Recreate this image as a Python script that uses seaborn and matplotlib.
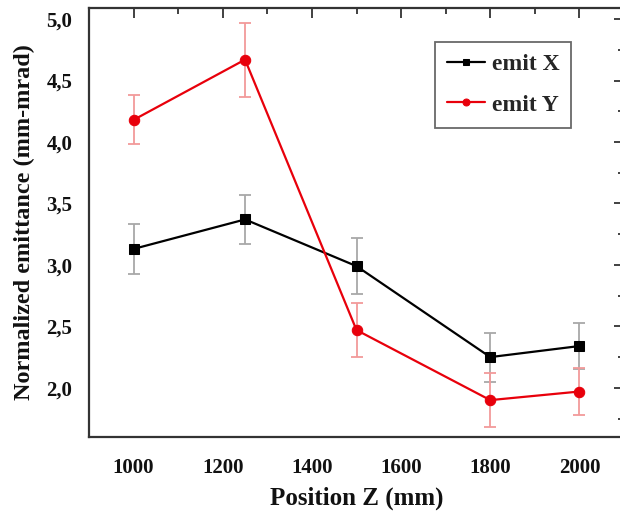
import matplotlib
matplotlib.use("Agg")
import matplotlib.pyplot as plt
import seaborn as sns
import pandas as pd
from matplotlib.ticker import MultipleLocator, FuncFormatter

sns.set_theme(style="white")
plt.rcParams['font.family'] = ['Liberation Serif', 'DejaVu Serif']
plt.rcParams['font.weight'] = 'bold'

positions = [1000, 1250, 1500, 1800, 2000]
emit_x = [3.13, 3.37, 2.99, 2.25, 2.34]
emit_x_err = [0.20, 0.20, 0.23, 0.20, 0.19]
emit_y = [4.18, 4.67, 2.47, 1.90, 1.97]
emit_y_err = [0.20, 0.30, 0.22, 0.22, 0.19]
series_names = ["emit X", "emit Y"]

df = pd.DataFrame({
    "z": positions * 2,
    "emit": emit_x + emit_y,
    "err": emit_x_err + emit_y_err,
    "series": [series_names[0]] * 5 + [series_names[1]] * 5,
})

fig = plt.figure(figsize=(6.2, 5.12), dpi=100)
ax = fig.add_axes([89/620, 1 - 437/512, (624-89)/620, (437-8)/512])

colors = {"emit X": "black", "emit Y": "#e8000b"}
ecolors = {"emit X": "#a8a8a8", "emit Y": "#f29a9a"}

for name in series_names:
    d = df[df.series == name]
    ax.errorbar(d.z, d.emit, yerr=d.err, fmt="none", ecolor=ecolors[name],
                elinewidth=1.3, capsize=4, capthick=1.3, zorder=1)

n_before = len(ax.lines)
sns.lineplot(data=df, x="z", y="emit", hue="series", style="series",
             markers={"emit X": "s", "emit Y": "o"}, dashes=False,
             palette=colors, linewidth=1.6, ax=ax, zorder=3)
for line in ax.lines[n_before:]:
    line.set_markeredgecolor(line.get_color())
    line.set_markersize(6.5 if line.get_marker() == "s" else 7.5)

ax.set_xlim(900, 2100)
ax.set_ylim(1.6, 5.09)
ax.xaxis.set_major_locator(MultipleLocator(200))
ax.xaxis.set_minor_locator(MultipleLocator(100))
ax.yaxis.set_major_locator(MultipleLocator(0.5))
ax.yaxis.set_minor_locator(MultipleLocator(0.25))
ax.yaxis.set_major_formatter(FuncFormatter(lambda v, p: f"{v:.1f}".replace(".", ",")))

ax.tick_params(axis="both", which="both", direction="out", labelsize=15,
               colors="#333333", labelcolor="#111111", width=1.3)
ax.tick_params(which="major", length=7, pad=5)
ax.tick_params(axis="x", which="major", pad=8)
ax.tick_params(which="minor", length=4)
for lab in ax.get_xticklabels() + ax.get_yticklabels():
    lab.set_fontweight("bold")

secx = ax.secondary_xaxis("top")
secx.xaxis.set_major_locator(MultipleLocator(200))
secx.xaxis.set_minor_locator(MultipleLocator(100))
secx.tick_params(which="both", direction="in", labeltop=False, width=1.3, colors="#333333")
secx.tick_params(which="major", length=7)
secx.tick_params(which="minor", length=4)
secy = ax.secondary_yaxis("right")
secy.yaxis.set_major_locator(MultipleLocator(0.5))
secy.yaxis.set_minor_locator(MultipleLocator(0.25))
secy.tick_params(which="both", direction="in", labelright=False, width=1.3, colors="#333333")
secy.tick_params(which="major", length=7)
secy.tick_params(which="minor", length=4)
secx.spines["top"].set_visible(False)
secy.spines["right"].set_visible(False)

for s in ax.spines.values():
    s.set_color("#333333")
    s.set_linewidth(1.6)

ax.set_xlabel("Position Z (mm)", fontsize=18, fontweight="bold", labelpad=6, color="#111111")
ax.set_ylabel("Normalized emittance (mm-mrad)", fontsize=17.5, fontweight="bold",
              labelpad=8, color="#111111")

leg = ax.legend(title=None, loc="upper left",
                bbox_to_anchor=((435-89)/535, 1 - (42-8)/429),
                prop={"family": "Liberation Serif", "weight": "bold", "size": 17},
                frameon=True, fancybox=False, edgecolor="#444444",
                handlelength=1.6, borderpad=0.5, labelspacing=0.8, handletextpad=0.3,
                borderaxespad=0)
leg.get_frame().set_linewidth(1.3)
for h in leg.legend_handles:
    h.set_markersize(5)

fig.savefig("out.png", dpi=100)
